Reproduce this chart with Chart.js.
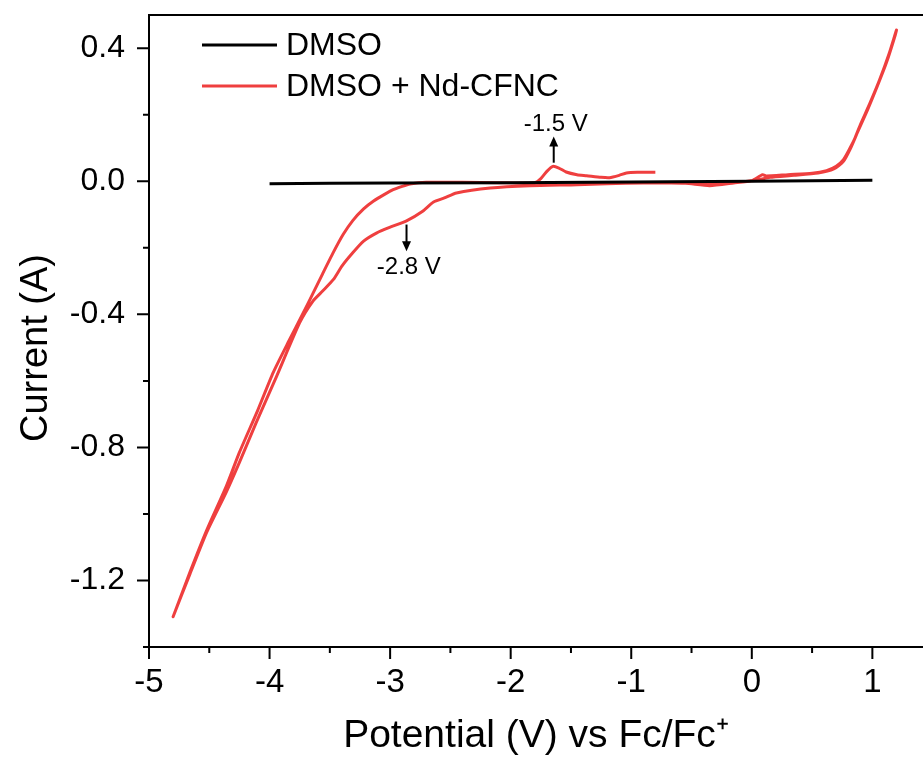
<!DOCTYPE html>
<html>
<head>
<meta charset="utf-8">
<script src="https://cdn.jsdelivr.net/npm/chart.js@4.4.1/dist/chart.umd.min.js"></script>
<style>
  html, body { margin: 0; padding: 0; background: #fff; }
  canvas { display: block; }
</style>
</head>
<body>
<canvas id="cv" width="923" height="758"></canvas>
<script>
// DMSO blank scan
const dmsoV = [-4.0, -3.5, -3.0, -2.0, -1.0, 0.0, 0.5, 1.0];
const dmsoI = [-0.007, -0.006, -0.005, -0.004, -0.002, 0.0, 0.002, 0.003];

// DMSO + Nd-CFNC cyclic scan, in sweep order
const ndV = [
  -0.80, -0.55, -0.35, -0.15, 0.00, 0.09, 0.12, 0.30, 0.50, 0.62, 0.70, 0.76, 0.80, 0.85, 0.90, 0.98, 1.06, 1.14, 1.20,
  1.19, 1.12, 1.04, 0.96, 0.88, 0.82, 0.76, 0.68, 0.55, 0.35, 0.15, 0.05, -0.10, -0.30, -0.60, -0.90, -1.20, -1.45,
  -1.84, -2.17, -2.45, -2.55, -2.64, -2.73, -2.86, -3.00, -3.11, -3.22, -3.31, -3.40, -3.47, -3.56, -3.64, -3.75,
  -3.94, -4.11, -4.25, -4.36, -4.52, -4.66, -4.80,
  -4.66, -4.52, -4.36, -4.25, -4.10, -3.97, -3.84, -3.72, -3.64, -3.56, -3.47, -3.39, -3.31, -3.22, -3.14, -3.05,
  -2.975, -2.90, -2.835, -2.70, -2.40, -2.10, -1.80, -1.75, -1.70, -1.65, -1.60, -1.54, -1.45, -1.37, -1.25, -1.18,
  -1.10, -1.04, -0.95, -0.80
];
const ndI = [
  -0.004, -0.006, -0.013, -0.005, 0.002, 0.020, 0.016, 0.020, 0.024, 0.032, 0.045, 0.065, 0.090, 0.125, 0.170, 0.235, 0.305, 0.385, 0.455,
  0.440, 0.360, 0.285, 0.215, 0.150, 0.100, 0.060, 0.037, 0.025, 0.018, 0.012, 0.004, -0.002, -0.008, -0.004, -0.005, -0.007, -0.010,
  -0.013, -0.020, -0.035, -0.050, -0.062, -0.090, -0.118, -0.138, -0.155, -0.180, -0.215, -0.255, -0.295, -0.330, -0.360, -0.425,
  -0.585, -0.725, -0.845, -0.935, -1.054, -1.180, -1.309,
  -1.175, -1.048, -0.918, -0.815, -0.690, -0.575, -0.480, -0.395, -0.337, -0.278, -0.213, -0.160, -0.118, -0.083, -0.060, -0.040,
  -0.025, -0.015, -0.008, -0.003, -0.003, -0.004, -0.004, 0.008, 0.030, 0.045, 0.040, 0.028, 0.020, 0.017, 0.012, 0.011,
  0.018, 0.025, 0.027, 0.027
];

const xTicks = [-5, -4, -3, -2, -1, 0, 1];
const xMinor = [-4.5, -3.5, -2.5, -1.5, -0.5, 0.5];
const yTicks = [0.4, 0.0, -0.4, -0.8, -1.2];
const yMinor = [0.2, -0.2, -0.6, -1.0, -1.4];

// peak markers: label, arrow x, arrow tail y, arrow head y, label x, label y
const peakLabels = ['-1.5 V', '-2.8 V'];
const peakX = [-1.643, -2.864];
const peakTail = [0.056, -0.13];
const peakHead = [0.135, -0.21];
const peakTextX = [-1.627, -2.845];
const peakTextY = [0.17, -0.26];

const yTitle = 'Current (A)';

const FONT = "'Liberation Sans', Arial, sans-serif";

const toPoints = (xs, ys) => xs.map((v, i) => ({ x: v, y: ys[i] }));

const axisMarks = {
  id: 'axisMarks',
  afterDraw(chart) {
    const { ctx, chartArea: a, scales: { x, y } } = chart;
    ctx.save();
    ctx.strokeStyle = '#000';
    ctx.lineWidth = 2;
    ctx.beginPath();
    ctx.moveTo(a.left - 1, a.top);
    ctx.lineTo(a.right, a.top);
    xTicks.forEach((v) => { const p = x.getPixelForValue(v); ctx.moveTo(p, a.bottom); ctx.lineTo(p, a.bottom + 12); });
    xMinor.forEach((v) => { const p = x.getPixelForValue(v); ctx.moveTo(p, a.bottom); ctx.lineTo(p, a.bottom + 6); });
    yTicks.forEach((v) => { const p = y.getPixelForValue(v); ctx.moveTo(a.left, p); ctx.lineTo(a.left - 12, p); });
    yMinor.forEach((v) => { const p = y.getPixelForValue(v); ctx.moveTo(a.left, p); ctx.lineTo(a.left - 6, p); });
    ctx.stroke();

    // y axis title (sits a little below the axis centre, as in the figure)
    ctx.save();
    ctx.translate(37, (a.top + a.bottom) / 2 + 17);
    ctx.rotate(-Math.PI / 2);
    ctx.fillStyle = '#000';
    ctx.font = '38px ' + FONT;
    ctx.textAlign = 'center';
    ctx.textBaseline = 'middle';
    ctx.fillText(yTitle, 0, 0);
    ctx.restore();

    // peak arrows
    ctx.fillStyle = '#000';
    ctx.font = '24px ' + FONT;
    ctx.textAlign = 'center';
    ctx.textBaseline = 'middle';
    peakLabels.forEach((lab, i) => {
      const px = x.getPixelForValue(peakX[i]);
      const y0 = y.getPixelForValue(peakTail[i]);
      const y1 = y.getPixelForValue(peakHead[i]);
      const dir = y1 < y0 ? 1 : -1;
      ctx.beginPath();
      ctx.moveTo(px, y0);
      ctx.lineTo(px, y1 + dir * 8);
      ctx.stroke();
      ctx.beginPath();
      ctx.moveTo(px, y1);
      ctx.lineTo(px - 4.5, y1 + dir * 10);
      ctx.lineTo(px + 4.5, y1 + dir * 10);
      ctx.closePath();
      ctx.fill();
      ctx.fillText(lab, x.getPixelForValue(peakTextX[i]), y.getPixelForValue(peakTextY[i]));
    });

    // legend
    ctx.font = '32px ' + FONT;
    ctx.textAlign = 'left';
    const rows = [45, 86];
    chart.data.datasets.forEach((ds, i) => {
      ctx.strokeStyle = ds.borderColor;
      ctx.lineWidth = 3;
      ctx.beginPath();
      ctx.moveTo(202, rows[i]);
      ctx.lineTo(277, rows[i]);
      ctx.stroke();
      ctx.fillStyle = '#000';
      ctx.fillText(ds.label, 286, rows[i] + 1);
    });
    ctx.restore();
  }
};

new Chart(document.getElementById('cv'), {
  type: 'scatter',
  data: {
    datasets: [
      {
        label: 'DMSO',
        data: toPoints(dmsoV, dmsoI),
        showLine: true,
        borderColor: '#000000',
        borderWidth: 3,
        pointRadius: 0,
        tension: 0,
      },
      {
        label: 'DMSO + Nd-CFNC',
        data: toPoints(ndV, ndI),
        showLine: true,
        borderColor: '#ef3f3f',
        borderWidth: 3,
        pointRadius: 0,
        tension: 0.2,
      },
    ],
  },
  options: {
    responsive: false,
    animation: false,
    devicePixelRatio: 1,
    layout: { padding: { top: 15, right: 0, left: 0, bottom: 0 } },
    plugins: {
      legend: { display: false },
      tooltip: { enabled: false },
    },
    scales: {
      x: {
        type: 'linear',
        min: -5,
        max: 1.42,
        afterFit: (s) => { s.height = 111; s.paddingLeft = 0; s.paddingRight = 0; },
        afterBuildTicks: (s) => { s.ticks = xTicks.map((v) => ({ value: v })); },
        grid: { display: false },
        border: { display: true, color: '#000', width: 2 },
        ticks: {
          color: '#000',
          padding: 8,
          font: { family: FONT, size: 33 },
          callback: (v) => String(v),
        },
        title: {
          display: true,
          text: 'Potential (V) vs Fc/Fc\u207A',
          color: '#000',
          font: { family: FONT, size: 39, lineHeight: 1 },
          padding: { top: 0, bottom: 2 },
        },
      },
      y: {
        type: 'linear',
        min: -1.4,
        max: 0.5,
        afterFit: (s) => { s.width = 149; s.paddingTop = 0; s.paddingBottom = 0; },
        afterBuildTicks: (s) => { s.ticks = yTicks.map((v) => ({ value: v })); },
        grid: { display: false },
        border: { display: true, color: '#000', width: 2 },
        ticks: {
          color: '#000',
          padding: 16,
          font: { family: FONT, size: 32 },
          callback: (v) => v.toFixed(1),
        },
      },
    },
  },
  plugins: [axisMarks],
});
</script>
</body>
</html>
